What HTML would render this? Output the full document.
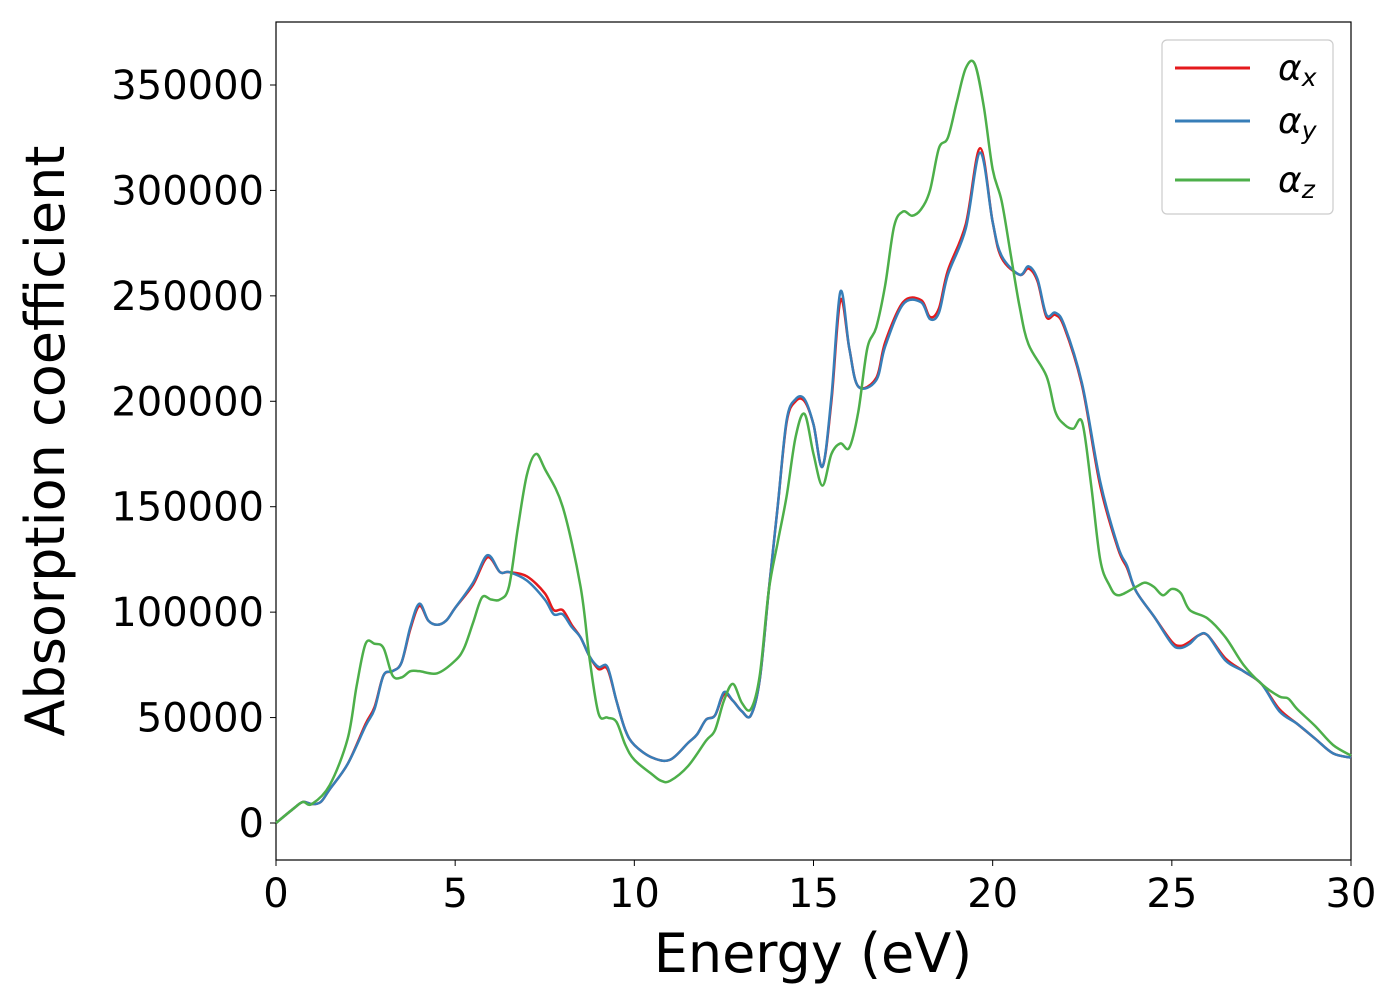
<!DOCTYPE html>
<html><head><meta charset="utf-8"><style>
body{margin:0;background:#fff}
svg text{font-family:"DejaVu Sans","Liberation Sans",sans-serif;fill:#000}
</style></head><body>
<svg id="chart" width="1400" height="1000">
<rect x="276" y="22" width="1075" height="838" fill="none" stroke="#000" stroke-width="1.2"/>
<g id="ticks"></g>
<g id="series"></g>
<text x="813" y="972" font-size="54" text-anchor="middle">Energy (eV)</text>
<text transform="translate(64,441) rotate(-90)" font-size="54" text-anchor="middle">Absorption coefficient</text>
<g>
<rect x="1162" y="40" width="171" height="174" rx="5" fill="#fff" stroke="#ccc" stroke-width="1.2"/>
<line x1="1175" y1="68" x2="1250" y2="68" stroke="#e41a1c" stroke-width="3"/>
<text x="1278" y="80" font-size="36" font-style="italic">α<tspan font-size="25" dy="6">x</tspan></text>
<line x1="1175" y1="121" x2="1250" y2="121" stroke="#377eb8" stroke-width="3"/>
<text x="1278" y="133" font-size="36" font-style="italic">α<tspan font-size="25" dy="6">y</tspan></text>
<line x1="1175" y1="180" x2="1250" y2="180" stroke="#4daf4a" stroke-width="3"/>
<text x="1278" y="192" font-size="36" font-style="italic">α<tspan font-size="25" dy="6">z</tspan></text>
</g>
</svg>
<script>
const xTicks=[0,5,10,15,20,25,30];
const yTicks=[0,50000,100000,150000,200000,250000,300000,350000];
const energyX=[0,0.5,0.75,1,1.25,1.5,2,2.5,2.75,3,3.25,3.5,3.75,4,4.25,4.5,4.75,5,5.5,5.9,6.25,6.5,7,7.5,7.75,8,8.25,8.5,8.75,9,9.25,9.5,9.75,10,10.5,11,11.5,11.75,12,12.25,12.5,12.75,13,13.25,13.5,13.75,14,14.25,14.5,14.75,15,15.25,15.5,15.75,16,16.25,16.75,17,17.5,18,18.25,18.5,18.75,19.25,19.65,20,20.25,20.75,21,21.25,21.5,21.75,22,22.5,23,23.5,23.75,24,24.5,25,25.25,25.5,25.75,26,26.5,27,27.5,28,28.5,29,29.5,30];
const alphaX=[0,7000,10000,9000,10000,16000,28000,47000,55000,70000,72000,76000,92000,103000,96000,94000,96000,102000,113000,126000,119000,119000,117000,109000,101000,101000,94000,88000,79000,73000,73000,58000,44000,37000,31000,30000,38000,42000,49000,51000,61000,58000,53000,51000,68000,110000,150000,190000,200000,200000,189000,169000,200000,248000,225000,207000,211000,228000,247000,248000,240000,244000,262000,284000,320000,285000,268000,260000,263000,257000,240000,241000,235000,207000,160000,130000,121000,110000,98000,86000,84000,86000,89000,89000,78000,72000,66000,54000,47000,40000,33000,31000];
const alphaY=[0,7000,10000,9000,10000,16000,28000,46000,54000,70000,72000,76000,93000,104000,96000,94000,96000,102000,114000,127000,119000,119000,115000,106000,99000,99000,93000,88000,79000,74000,74000,58000,44000,37000,31000,30000,38000,42000,49000,51000,62000,58000,53000,51000,68000,110000,150000,191000,201000,201000,189000,169000,202000,252000,225000,207000,210000,226000,246000,247000,239000,242000,260000,282000,318000,285000,269000,260000,264000,258000,241000,242000,236000,208000,162000,131000,122000,110000,98000,85000,83000,85000,89000,89000,77000,72000,66000,53000,47000,40000,33000,31000];
const energyZ=[0,0.5,0.75,1,1.5,2,2.25,2.5,2.75,3,3.25,3.5,3.75,4,4.5,5,5.25,5.5,5.75,6,6.25,6.5,6.75,7,7.25,7.5,8,8.5,8.75,9,9.25,9.5,9.75,10,10.5,10.75,11,11.5,12,12.25,12.5,12.75,13,13.25,13.5,13.75,14,14.25,14.5,14.75,15,15.25,15.5,15.75,16,16.25,16.5,16.75,17,17.25,17.5,17.75,18,18.25,18.5,18.75,19,19.25,19.5,19.75,20,20.25,20.5,20.75,21,21.5,21.75,22,22.25,22.5,22.75,23,23.25,23.5,24,24.25,24.5,24.75,25,25.25,25.5,26,26.5,27,27.5,28,28.25,28.5,29,29.5,30];
const alphaZ=[0,7000,10000,9000,18000,40000,65000,85000,85000,83000,70000,69000,72000,72000,71000,77000,83000,95000,107000,106000,106000,112000,140000,165000,175000,168000,150000,112000,78000,52000,50000,48000,37000,30000,23000,20000,20000,27000,39000,44000,58000,66000,57000,54000,70000,110000,133000,155000,183000,194000,175000,160000,175000,180000,178000,195000,225000,235000,255000,283000,290000,288000,291000,300000,320000,325000,342000,358000,360000,340000,310000,295000,270000,245000,227000,212000,195000,189000,187000,190000,160000,125000,113000,108000,112000,114000,112000,108000,111000,109000,101000,97000,88000,75000,66000,60000,59000,54000,46000,37000,32000];
const X0=276,X1=1351,Y0=823,PX50=105.43;
const xs=v=>X0+(v/30)*(X1-X0);
const ys=v=>Y0-(v/50000)*PX50;
const NS="http://www.w3.org/2000/svg";
const tg=document.getElementById('ticks');
xTicks.forEach(t=>{
 const l=document.createElementNS(NS,'line');
 l.setAttribute('x1',xs(t));l.setAttribute('x2',xs(t));l.setAttribute('y1',860);l.setAttribute('y2',866);l.setAttribute('stroke','#000');
 
 
 tg.appendChild(l);
 const tx=document.createElementNS(NS,'text');
 tx.setAttribute('x',xs(t));tx.setAttribute('y',907);tx.setAttribute('font-size','40');tx.setAttribute('text-anchor','middle');tx.textContent=t;
 
 
 tg.appendChild(tx);
});
yTicks.forEach(t=>{
 const l=document.createElementNS(NS,'line');
 l.setAttribute('x1',270);l.setAttribute('x2',276);l.setAttribute('y1',ys(t));l.setAttribute('y2',ys(t));l.setAttribute('stroke','#000');
 
 
 tg.appendChild(l);
 const tx=document.createElementNS(NS,'text');
 tx.setAttribute('x',264);tx.setAttribute('y',ys(t)+14);tx.setAttribute('font-size','40');tx.setAttribute('text-anchor','end');tx.textContent=t;
 
 
 tg.appendChild(tx);
});
function smoothPath(ex,ay){
 const p=ex.map((e,i)=>[xs(e),ys(ay[i])]);
 let d='M'+p[0][0]+','+p[0][1];
 for(let i=0;i<p.length-1;i++){
  const a=p[i-1]||p[i],b=p[i],c=p[i+1],e=p[i+2]||c;
  const c1=[b[0]+(c[0]-a[0])/6,b[1]+(c[1]-a[1])/6];
  const c2=[c[0]-(e[0]-b[0])/6,c[1]-(e[1]-b[1])/6];
  d+=' C'+c1+' '+c2+' '+c;
 }
 return d;
}
const sg=document.getElementById('series');
[[energyX,alphaX,'#e41a1c','line-alpha-x'],[energyX,alphaY,'#377eb8','line-alpha-y'],[energyZ,alphaZ,'#4daf4a','line-alpha-z']].forEach(s=>{
 const p=document.createElementNS(NS,'path');
 p.setAttribute('d',smoothPath(s[0],s[1]));p.setAttribute('fill','none');p.setAttribute('stroke',s[2]);p.setAttribute('stroke-width','2.5');
 
 
 sg.appendChild(p);
});
</script>
</body></html>
